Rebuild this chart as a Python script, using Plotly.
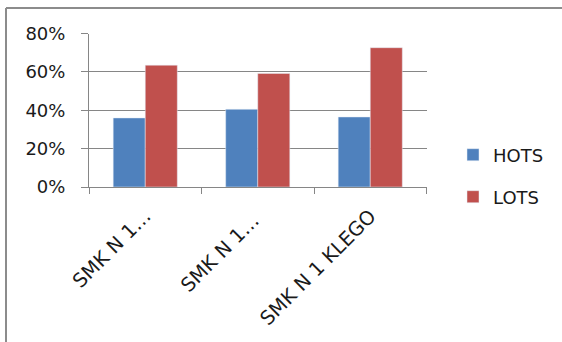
import plotly.graph_objects as go

# Chart data
categories = ["SMK N 1…", "SMK N 1… ", "SMK N 1 KLEGO"]
hots = [0.36, 0.405, 0.365]
lots = [0.635, 0.592, 0.726]
y_ticks = [0, 0.2, 0.4, 0.6, 0.8]
y_tick_labels = ["0%", "20%", "40%", "60%", "80%"]

W, H = 562, 342
FONT = "DejaVu Sans"
GRID = "#868686"
TXT = "#1a1a1a"

fig = go.Figure()
fig.add_trace(go.Bar(x=categories, y=hots, name="HOTS", marker_color="#4F81BD",
                     legend="legend"))
fig.add_trace(go.Bar(x=categories, y=lots, name="LOTS", marker_color="#C0504D",
                     legend="legend2"))

x0, x1 = 89 / W, 426.5 / W
y0, y1 = 1 - 187 / H, 1 - 33.5 / H

legend_style = dict(font=dict(family=FONT, size=18, color=TXT),
                    bgcolor="rgba(0,0,0,0)", xanchor="left", yanchor="middle",
                    itemwidth=30)

fig.update_layout(
    width=W, height=H,
    margin=dict(l=0, r=0, t=0, b=0),
    paper_bgcolor="white", plot_bgcolor="white",
    barmode="group", bargap=0.43, bargroupgap=0,
    font=dict(family=FONT, size=18, color=TXT),
    xaxis=dict(domain=[x0, x1], showgrid=False, showline=True, linecolor=GRID,
               linewidth=1, ticks="outside", tickson="boundaries", ticklen=6,
               tickcolor=GRID, tickangle=-45, automargin=False,
               ticklabelstandoff=9,
               tickfont=dict(family=FONT, size=19.5, color=TXT)),
    yaxis=dict(domain=[y0, y1], range=[0, 0.8], tickvals=y_ticks,
               ticktext=y_tick_labels, showgrid=True, gridcolor=GRID,
               gridwidth=1, showline=True, linecolor=GRID, linewidth=1,
               ticks="outside", ticklen=7, tickcolor=GRID, zeroline=False,
               automargin=False, ticklabelstandoff=12,
               tickfont=dict(family=FONT, size=18, color=TXT)),
    legend=dict(x=453 / W, y=1 - 155 / H, **legend_style),
    legend2=dict(x=453 / W, y=1 - 197 / H, **legend_style),
    showlegend=True,
    shapes=[
        dict(type="line", xref="paper", yref="paper", x0=6 / W, x1=6 / W,
             y0=-0.05, y1=1 - 8 / H, line=dict(color="#8c8c8c", width=2)),
        dict(type="line", xref="paper", yref="paper", x0=6 / W, x1=1.05,
             y0=1 - 8 / H, y1=1 - 8 / H, line=dict(color="#8c8c8c", width=2)),
    ],
)

fig.write_html("out.html")
